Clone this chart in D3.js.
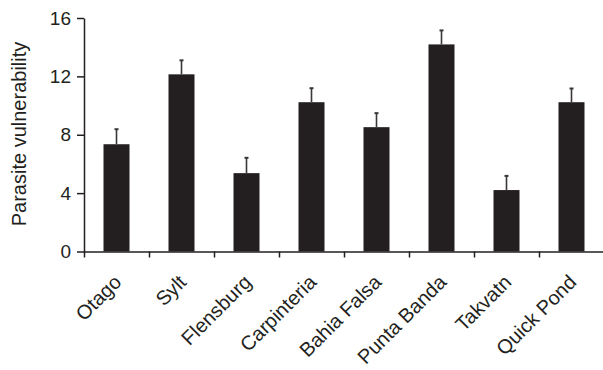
<!DOCTYPE html>
<html>
<head>
<meta charset="utf-8">
<script src="https://cdn.jsdelivr.net/npm/d3@7"></script>
<style>
  html, body { margin: 0; padding: 0; background: #fff; }
  svg { display: block; font-family: "Liberation Sans", Arial, sans-serif; }
</style>
</head>
<body>
<svg id="chart" width="603" height="370"></svg>
<script>
// Sites and mean parasite vulnerability with upper error (SE)
const sites = ["Otago", "Sylt", "Flensburg", "Carpinteria", "Bahia Falsa", "Punta Banda", "Takvatn", "Quick Pond"];
const vulnerability = [7.35, 12.14, 5.37, 10.23, 8.52, 14.19, 4.21, 10.23];
const errorUpper = [1.03, 0.96, 1.05, 0.96, 0.96, 0.96, 0.97, 0.94];
const yTicks = [0, 4, 8, 12, 16];
const yTitle = "Parasite vulnerability";

const ink = "#231f20";
const svg = d3.select("#chart");

const plot = { left: 84, right: 604, top: 18, bottom: 251.5 };

const x = d3.scaleBand()
  .domain(sites)
  .range([plot.left, plot.right])
  .paddingInner(0.6)
  .paddingOuter(0.3);

const y = d3.scaleLinear()
  .domain([0, 16])
  .range([plot.bottom, plot.top]);

// Category boundaries for the bottom tick marks
const boundary = d3.scaleLinear()
  .domain([0, sites.length])
  .range([plot.left, plot.right]);

// Bars
svg.append("g")
  .selectAll("rect")
  .data(sites)
  .join("rect")
  .attr("x", d => x(d))
  .attr("y", (d, i) => y(vulnerability[i]))
  .attr("width", x.bandwidth())
  .attr("height", (d, i) => y(0) - y(vulnerability[i]))
  .attr("fill", ink);

// Upper error bars
const err = svg.append("g")
  .attr("stroke", "#3b3738")
  .selectAll("g")
  .data(sites)
  .join("g");

err.append("line")
  .attr("x1", d => x(d) + x.bandwidth() / 2)
  .attr("x2", d => x(d) + x.bandwidth() / 2)
  .attr("y1", (d, i) => y(vulnerability[i]))
  .attr("y2", (d, i) => y(vulnerability[i] + errorUpper[i]))
  .attr("stroke-width", 1.6);

err.append("line")
  .attr("x1", d => x(d) + x.bandwidth() / 2 - 2)
  .attr("x2", d => x(d) + x.bandwidth() / 2 + 2)
  .attr("y1", (d, i) => y(vulnerability[i] + errorUpper[i]))
  .attr("y2", (d, i) => y(vulnerability[i] + errorUpper[i]))
  .attr("stroke-width", 2);

// Y axis
const yAxis = svg.append("g")
  .attr("transform", `translate(${plot.left},0)`)
  .call(d3.axisLeft(y).tickValues(yTicks).tickSize(7).tickSizeOuter(0).tickPadding(6));

yAxis.select(".domain").attr("stroke", ink).attr("stroke-width", 1.5);
yAxis.selectAll(".tick line").attr("stroke", ink).attr("stroke-width", 1.5);
yAxis.selectAll(".tick text")
  .attr("fill", ink)
  .style("font-size", "19px")
  .style("font-family", "'Liberation Sans', Arial, sans-serif");

// X axis: baseline with ticks between categories
const xAxis = svg.append("g")
  .attr("transform", `translate(0,${plot.bottom})`)
  .call(d3.axisBottom(boundary).tickValues(d3.range(sites.length + 1)).tickSize(6).tickSizeOuter(0).tickFormat(""));

xAxis.select(".domain").attr("stroke", ink).attr("stroke-width", 1.5);
xAxis.selectAll(".tick line").attr("stroke", ink).attr("stroke-width", 1.5);

// Rotated category labels
svg.append("g")
  .selectAll("text")
  .data(sites)
  .join("text")
  .attr("transform", d => `translate(${x(d) + x.bandwidth() / 2 + 6},${plot.bottom + 32}) rotate(-45)`)
  .attr("text-anchor", "end")
  .attr("fill", ink)
  .style("font-size", "20px")
  .text(d => d);

// Y axis title
svg.append("text")
  .attr("transform", `translate(26,134) rotate(-90)`)
  .attr("text-anchor", "middle")
  .attr("fill", ink)
  .style("font-size", "20px")
  .text(yTitle);
</script>
</body>
</html>
